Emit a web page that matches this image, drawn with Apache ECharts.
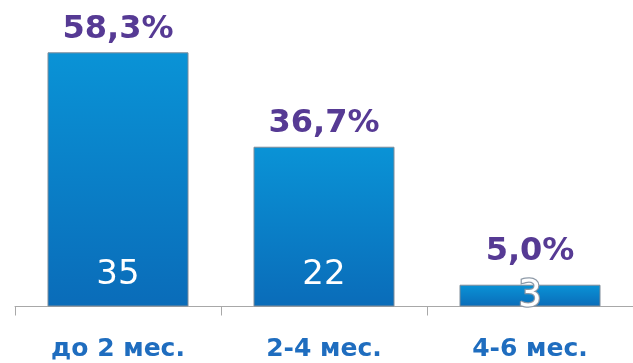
<!DOCTYPE html>
<html>
<head>
<meta charset="utf-8">
<style>
  html, body { margin: 0; padding: 0; background: #fff; }
  #chart { width: 633px; height: 363px; }
</style>
<script src="https://cdn.jsdelivr.net/npm/echarts@6/dist/echarts.min.js"></script>
</head>
<body>
<div id="chart"></div>
<script>
const categories = ["до 2 мес.", "2-4 мес.", "4-6 мес."];
const counts = [35, 22, 3];
const shares = ["58,3%", "36,7%", "5,0%"];

const chart = echarts.init(document.getElementById("chart"));

const barColor = {
  type: "linear", x: 0, y: 0, x2: 0, y2: 1,
  colorStops: [
    { offset: 0, color: "#0a93d6" },
    { offset: 1, color: "#0a6cb9" }
  ]
};

// the small last bar has its labels pushed around
const shareData = counts.map((v, i) => ({
  value: v,
  label: { distance: i === 2 ? 17 : 7 }
}));
const countData = counts.map((v, i) => ({
  value: v,
  label: i === 2
    ? { distance: -8, fontSize: 37, textBorderColor: "#8c98a6", textBorderWidth: 2.5 }
    : { distance: 14 }
}));

chart.setOption({
  animation: false,
  grid: { left: 15, width: 622, top: 16, height: 290.5 },
  xAxis: {
    type: "category",
    data: categories,
    axisLine: { lineStyle: { color: "#a8a8a8", width: 1 } },
    axisTick: { show: true, length: 9, lineStyle: { color: "#a8a8a8" } },
    axisLabel: {
      margin: 30,
      fontFamily: "DejaVu Sans",
      fontWeight: "bold",
      fontSize: 25,
      color: "#1f6dbf"
    }
  },
  yAxis: { type: "value", min: 0, max: 40, show: false },
  series: [
    {
      type: "bar",
      data: shareData,
      barWidth: 141,
      itemStyle: { color: barColor, borderColor: "#7f8c99", borderWidth: 1 },
      label: {
        show: true,
        position: "top",
        formatter: p => shares[p.dataIndex],
        fontFamily: "DejaVu Sans",
        fontWeight: "bold",
        fontSize: 32,
        color: "#563a94"
      }
    },
    {
      type: "bar",
      data: countData,
      barWidth: 141,
      barGap: "-100%",
      silent: true,
      z: 3,
      itemStyle: { color: "rgba(0,0,0,0)" },
      label: {
        show: true,
        position: "insideBottom",
        fontFamily: "DejaVu Sans",
        fontSize: 34,
        color: "#ffffff"
      }
    }
  ]
});
</script>
</body>
</html>
